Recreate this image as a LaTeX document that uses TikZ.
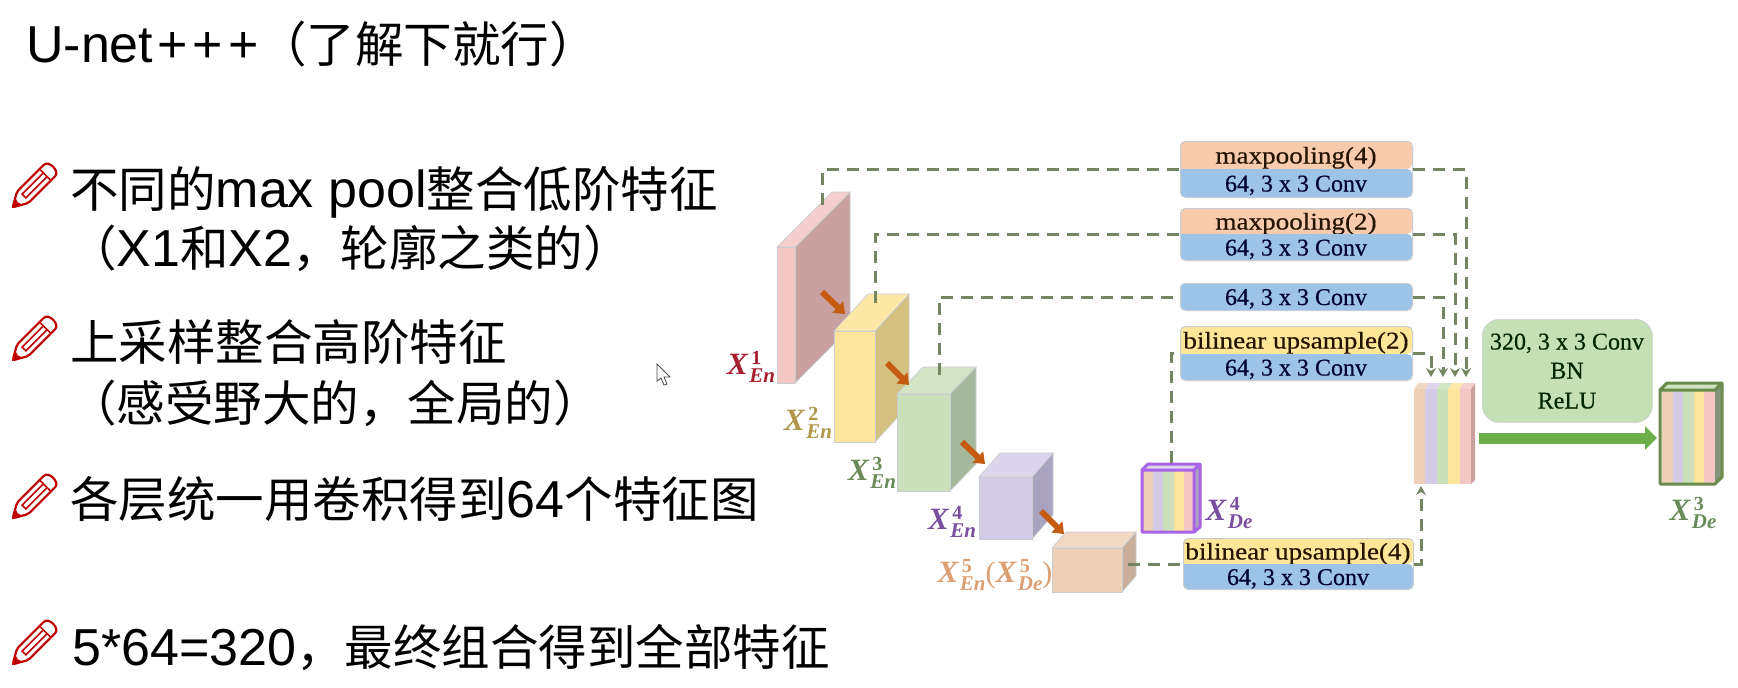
\documentclass[tikz,border=0pt]{standalone}
\usepackage{fontspec}
\setmainfont{Noto Sans CJK SC}
\newfontfamily\latfam{Liberation Sans}
\newfontfamily\serifbox[FakeBold=0.4]{Liberation Serif}
\newfontfamily\serifwide[FakeStretch=1.13,FakeBold=0.4]{Liberation Serif}
\newfontfamily\lblfam{Liberation Serif}
\usetikzlibrary{arrows.meta,calc}
\definecolor{dashcol}{HTML}{738561}
\definecolor{orangearr}{HTML}{C55A11}
\definecolor{framecol}{HTML}{C9CDD2}
\definecolor{blueface}{HTML}{9DC3E6}
\definecolor{peachface}{HTML}{F8CBAD}
\definecolor{yellowface}{HTML}{FFE699}
\definecolor{opgreen}{HTML}{C5E0B4}
\definecolor{arrowgreen}{HTML}{6CAE4A}
\definecolor{xfourcol}{HTML}{A863E6}
\definecolor{xthreecol}{HTML}{6A8B4A}
\definecolor{sPeach}{HTML}{EDD0B6}\definecolor{sPeachS}{HTML}{C9AE9B}\definecolor{sPeachT}{HTML}{F0D8C3}
\definecolor{sPurple}{HTML}{D4CBE8}\definecolor{sPurpleS}{HTML}{A9A3BF}\definecolor{sPurpleT}{HTML}{DCD5EC}
\definecolor{sGreen}{HTML}{CADFBA}\definecolor{sGreenS}{HTML}{A5B89B}\definecolor{sGreenT}{HTML}{D2E4C4}
\definecolor{sYellow}{HTML}{FDE59C}\definecolor{sYellowS}{HTML}{D4C080}\definecolor{sYellowT}{HTML}{FEE8A8}
\definecolor{sPink}{HTML}{F4C7C7}\definecolor{sPinkS}{HTML}{C9A0A0}\definecolor{sPinkT}{HTML}{F5CFCF}
\definecolor{lblRed}{HTML}{A8202F}\definecolor{lblGold}{HTML}{B0954A}\definecolor{lblGreen}{HTML}{6B8A5A}
\definecolor{lblPurple}{HTML}{7A4FA0}\definecolor{lblPeach}{HTML}{DB9F72}
\newcommand\lat[1]{{\latfam\fontsize{52}{58}\selectfont #1}}
\tikzset{
  slidetext/.style={anchor=west,inner sep=0pt,text=black,font=\fontsize{48.5}{58}\selectfont},
  boxtext/.style={inner sep=0pt,text height=16pt,text depth=5pt,yshift=-3pt,font=\serifbox\fontsize{24}{28}\selectfont,text=#1},
  widetext/.style={inner sep=0pt,text height=16pt,text depth=5pt,yshift=-3pt,font=\serifwide\fontsize{24}{28}\selectfont,text=#1},
  skip/.style={draw=dashcol,line width=3pt,dash pattern=on 12pt off 8pt},
  skiparrow/.style={skip,-{Stealth[length=9pt,width=10pt]}},
  downarr/.style={draw=orangearr,line width=6pt,-{Triangle[length=10pt,width=15pt]}},
  lbl/.style={inner sep=0pt,text=#1},
  frame/.style={draw=framecol,line width=1pt,rounded corners=5pt,inner sep=0pt},
}
\newcommand\xlab[2]{{\lblfam\bfseries\fontsize{31}{34}\selectfont\textit{X}\kern1pt\rlap{\raisebox{10pt}{\kern2pt\fontsize{20}{22}\selectfont #1}}\raisebox{-8pt}{\fontsize{21}{22}\selectfont\textit{#2}}}}
\newcommand\cubeblock[7]{%
  \def\cA{#2}\def\cB{#3}\def\cC{#4}\def\cD{#5}\def\cE{#6}\def\cF{#7}\cubeblockB{#1}}
\newcommand\cubeblockB[4]{%
  \fill[#3,draw=framecol,line width=.7pt] (\cB,\cC) -- ++(\cE,-\cF) -- ++(0,\cD-\cC) -- (\cB,\cD) -- cycle;
  \fill[#4,draw=framecol,line width=.7pt] (\cA,\cC) -- ++(\cE,-\cF) -- ++(\cB-\cA,0) -- (\cB,\cC) -- cycle;
  \node[fill=#2,draw=framecol,line width=.7pt,inner sep=0pt,anchor=north west,
    minimum width={(\cB-\cA)*1pt},minimum height={(\cD-\cC)*1pt}] (#1) at (\cA,\cC) {};}
\newcommand\opbox[8]{%
  \fill[#7,rounded corners=5pt] (#2,#5) -- (#2,#4) -- (#3,#4) -- (#3,#5) [sharp corners] -- cycle;
  \node[widetext={black!85!orange}] (#1top) at ({(#2+#3)/2},{(#4+#5)/2}) {#8};
  \fill[blueface,rounded corners=5pt] (#2,#5) -- (#2,#6) -- (#3,#6) -- (#3,#5) [sharp corners] -- cycle;
  \node[frame,anchor=north west,minimum width={(#3-#2)*1pt},minimum height={(#6-#4)*1pt}] (#1) at (#2,#4) {};
  \node[boxtext={black!80!blue}] (#1bot) at ({(#2+#3)/2},{(#5+#6)/2}) {64, 3 x 3 Conv};}
\newcommand\stripes[4]{%
  \foreach \i/\c in {0/sPeach,1/sPurple,2/sGreen,3/sYellow,4/sPink}{
    \fill[\c] ({#1+\i*(#2-#1)/5},#3) rectangle ({#1+(\i+1)*(#2-#1)/5},#4);}}
\newcommand\pencilbullet[2]{%
  \begin{scope}[shift={(#1,#2)},rotate=45]
    \draw[draw=red!75!black,fill=white,line width=2.2pt,line join=round,rounded corners=2pt]
      (1,0) -- (15,8) -- (51,8) .. controls (60,8) and (60,-8) .. (51,-8) -- (15,-8) -- cycle;
    \fill[red!75!black] (0,0) -- (10,-5.5) -- (8,0) -- (10,5.5) -- cycle;
    \draw[red!75!black,line width=1.6pt] (17,2.7) -- (47,2.7) -- (47,-2.7) -- (17,-2.7) -- cycle (47,8) -- (47,-8);
  \end{scope}}
\begin{document}
\begin{tikzpicture}[x=1pt,y=-1pt]
\useasboundingbox[fill=white] (0,0) rectangle (1738,688);

% left text
\node[slidetext] (title) at (26,44) {\lat{U-net\kern4pt+\kern5pt+\kern5pt+}（了解下就行）};
\node[slidetext] (l1) at (70,192) {不同的\lat{max pool}整合低阶特征};
\node[slidetext] (l1b) at (68,248) {（\lat{X1}和\lat{X2}，轮廓之类的）};
\node[slidetext] (l2) at (70,342) {上采样整合高阶特征};
\node[slidetext] (l2b) at (68,403) {（感受野大的，全局的）};
\node[slidetext] (l3) at (70,499) {各层统一用卷积得到\lat{64}个特征图};
\node[slidetext] (l4) at (72,647) {\lat{5*64=320}，最终组合得到全部特征};
\pencilbullet{12}{208}
\pencilbullet{12}{361}
\pencilbullet{12}{519}
\pencilbullet{12}{665}

% mouse cursor
\draw[black!70,fill=white,line width=.8pt] (657,364) -- (657,381) -- (661,378) -- (664,385) -- (667,384) -- (664,377) -- (670,377) -- cycle;

% encoder blocks
\cubeblock{pink}{777}{795}{247}{383}{55}{55}{sPink}{sPinkS}{sPinkT}
\cubeblock{yellow}{834}{875}{331}{442}{34}{37}{sYellow}{sYellowS}{sYellowT}
\cubeblock{green}{897}{950}{394}{491}{26}{27}{sGreen}{sGreenS}{sGreenT}
\cubeblock{purple}{979}{1032}{477}{539}{21}{24}{sPurple}{sPurpleS}{sPurpleT}
\cubeblock{peach}{1052}{1122}{548}{592}{14}{16}{sPeach}{sPeachS}{sPeachT}

% X4De block
\fill[sPurpleT] (1142,470) -- (1148,464) -- (1200,464) -- (1195,470) -- cycle;
\node[inner sep=0pt,anchor=north west,minimum width=54pt,minimum height=63pt] (xfour) at (1141,470) {};
\stripes{1143}{1194}{470}{531}
\fill[sPurpleS] (1195,470) -- (1201,464) -- (1201,527) -- (1195,533) -- cycle;
\draw[draw=xfourcol,line width=3pt,line join=round] (1142,470) -- (1148,464) -- (1200,464) -- (1200,527) -- (1194,532) -- (1142,532) -- cycle (1142,470) -- (1194,470) -- (1200,464) (1194,470) -- (1194,532);

% concatenated block
\fill[sPinkS] (1471,389) -- (1475,383) -- (1475,480) -- (1471,484) -- cycle;
\node[inner sep=0pt,anchor=north west,minimum width=57pt,minimum height=95pt] (concat) at (1414,389) {};
\stripes{1414}{1471}{389}{484}
\foreach \i/\c in {0/sPeachT,1/sPurpleT,2/sGreenT,3/sYellowT,4/sPinkT}{
  \fill[\c] ({1414+\i*11.4},389) -- ({1418+\i*11.4},383) -- ({1429.4+\i*11.4},383) -- ({1425.4+\i*11.4},389) -- cycle;}

% final block
\fill[sGreenT] (1660,390) -- (1667,383) -- (1722,383) -- (1715,390) -- cycle;
\node[inner sep=0pt,anchor=north west,minimum width=56pt,minimum height=95pt] (xthree) at (1659,390) {};
\stripes{1662}{1715}{390}{483}
\fill[sGreenS!80!black] (1715,390) -- (1722,383) -- (1722,477) -- (1715,484) -- cycle;
\draw[draw=xthreecol,line width=3pt,line join=round] (1660,390) -- (1667,383) -- (1722,383) -- (1722,477) -- (1715,484) -- (1660,484) -- cycle (1660,390) -- (1715,390) -- (1722,383);

% operation boxes
\opbox{opa}{1180}{1412}{141}{169}{197}{peachface}{maxpooling(4)}
\opbox{opb}{1180}{1412}{208}{234}{260}{peachface}{maxpooling(2)}
\fill[blueface,rounded corners=5pt] (1180,283) rectangle (1412,310);
\node[frame,anchor=north west,minimum width=232pt,minimum height=27pt] (opc) at (1180,283) {};
\node[boxtext={black!80!blue}] (opcbot) at (1296,296.5) {64, 3 x 3 Conv};
\opbox{opd}{1180}{1412}{326}{354}{380}{yellowface}{bilinear upsample(2)}
\opbox{ope}{1183}{1413}{538}{564}{589}{yellowface}{bilinear upsample(4)}

% green operation box
\node[fill=opgreen,draw=framecol,line width=.7pt,rounded corners=17pt,anchor=north west,minimum width=170pt,minimum height=103pt,inner sep=0pt] (opf) at (1482,319) {};
\node[boxtext={black!85!green}] (opfa) at (1567,341) {320, 3 x 3 Conv};
\node[boxtext={black!85!green}] (opfb) at (1567,370) {BN};
\node[boxtext={black!85!green}] (opfc) at (1567,400) {ReLU};

% connector ends
\coordinate (sa) at (822,205);
\coordinate (sb) at (875,303);
\coordinate (sc) at (939,375);
\coordinate (sd) at (1171,463);
\coordinate (se) at (1128,564);
\coordinate (ea) at (1466,377);
\coordinate (eb) at (1455,377);
\coordinate (ec) at (1443,377);
\coordinate (ed) at (1431,377);
\coordinate (ee) at (1421,486);

\draw[skip] (sa) |- (opa.west);
\draw[skip] (sb) |- (opb.west);
\draw[skip] (sc) |- (opc.west);
\draw[skip] (sd) |- (opd.west);
\draw[skip] (se) -- (ope.west);
\draw[skiparrow] (opa.east) -| (ea);
\draw[skiparrow] (opb.east) -| (eb);
\draw[skiparrow] (opc.east) -| (ec);
\draw[skiparrow] (opd.east) -| (ed);
\draw[skiparrow] (ope.east) -| (ee);

% down arrows
\coordinate (da1) at (822,292); \coordinate (da2) at (845,314);
\coordinate (db1) at (887,363); \coordinate (db2) at (909,385);
\coordinate (dc1) at (962,442); \coordinate (dc2) at (985,464);
\coordinate (dd1) at (1041,511); \coordinate (dd2) at (1064,534);
\draw[downarr] (da1) -- (da2);
\draw[downarr] (db1) -- (db2);
\draw[downarr] (dc1) -- (dc2);
\draw[downarr] (dd1) -- (dd2);

% green arrow
\coordinate (ga) at (1479,438);
\coordinate (gb) at (1657,438);
\draw[draw=arrowgreen,line width=11pt,-{Triangle[length=12pt,width=23pt]}] (ga) -- (gb);

% labels
\node[lbl=lblRed] (lx1) at (751,367) {\xlab{1}{En}};
\node[lbl=lblGold] (lx2) at (808,423) {\xlab{2}{En}};
\node[lbl=lblGreen] (lx3) at (872,473) {\xlab{3}{En}};
\node[lbl=lblPurple] (lx4) at (952,522) {\xlab{4}{En}};
\node[lbl=lblPeach] (lx5) at (995,575) {\xlab{5}{En}{\lblfam\fontsize{30}{34}\selectfont(}\xlab{5}{De}{\lblfam\fontsize{30}{34}\selectfont)}};
\node[lbl=lblPurple] (lx6) at (1229,513) {\xlab{4}{De}};
\node[lbl=lblGreen] (lx7) at (1693,513) {\xlab{3}{De}};
\end{tikzpicture}
\end{document}
